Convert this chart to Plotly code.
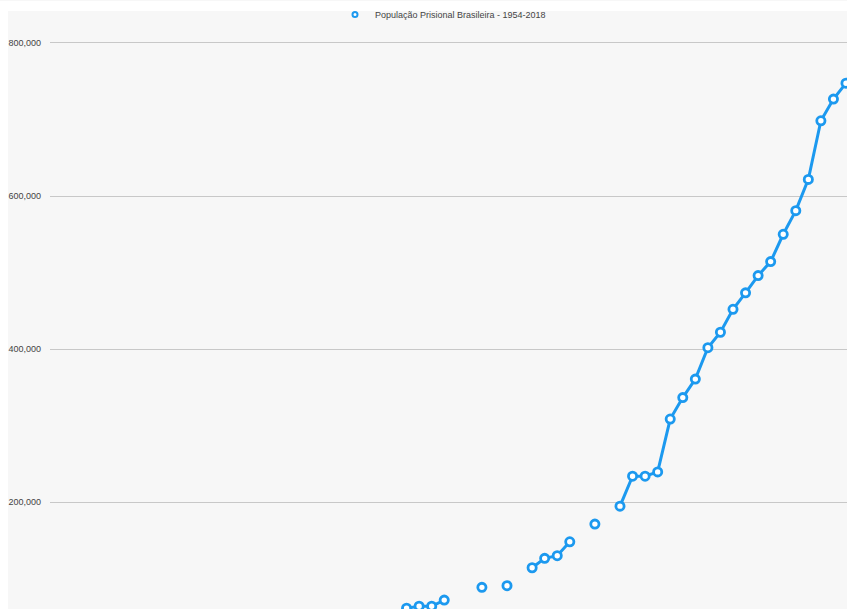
import plotly.graph_objects as go

# Data (years without a value are gaps)
years = [1982, 1983, 1984, 1985, 1986, 1987, 1988, 1989, 1990, 1991,
         1992, 1993, 1994, 1995, 1996, 1997, 1998, 1999, 2000, 2001,
         2002, 2003, 2004, 2005, 2006, 2007, 2008, 2009, 2010, 2011,
         2012, 2013, 2014, 2015, 2016, 2017]
population = [61500, 64000, 64000, 72000, None, None, 88700, None, 90800, None,
              114300, 126600, 130000, 148200, None, 171300, None, 194800, 233900, 233900,
              239500, 308600, 336600, 360800, 401800, 422000, 452000, 473500, 496000, 514300,
              550000, 580900, 621700, 698300, 726600, 747400]
series_name = "População Prisional Brasileira - 1954-2018"
y_ticks = [200000, 400000, 600000, 800000]

BLUE = "#1c99ef"
BG = "#f7f7f7"
FONT = "Liberation Sans, Arial, Helvetica, sans-serif"

W, H = 847, 609
ML, MT = 50, 0
plot_w, plot_h = W - ML, H - MT

fig = go.Figure()
fig.add_trace(go.Scatter(
    x=years, y=population, mode="lines+markers", name=series_name,
    showlegend=False, connectgaps=False,
    line=dict(color=BLUE, width=3),
    marker=dict(symbol="circle", size=8.2, color="white",
                line=dict(color=BLUE, width=2.8)),
))
# legend entry (marker only)
fig.add_trace(go.Scatter(
    x=[None], y=[None], mode="markers", name=series_name,
    marker=dict(symbol="circle", size=5, color="white",
                line=dict(color=BLUE, width=2)),
))

def px_x(p):
    return (p - ML) / plot_w

def px_y(p):
    return (H - p) / plot_h

shapes = [
    # white strip at top
    dict(type="rect", xref="paper", yref="paper", x0=px_x(0), x1=px_x(W),
         y0=px_y(10), y1=px_y(0), fillcolor="white", line=dict(width=0), layer="below"),
    # white strip at left
    dict(type="rect", xref="paper", yref="paper", x0=px_x(0), x1=px_x(8),
         y0=px_y(H), y1=px_y(0), fillcolor="white", line=dict(width=0), layer="below"),
]

fig.update_layout(
    width=W, height=H,
    margin=dict(l=ML, r=0, t=MT, b=0, pad=0),
    paper_bgcolor=BG, plot_bgcolor=BG,
    font=dict(family=FONT, size=9, color="#444"),
    showlegend=True,
    legend=dict(orientation="h", xref="paper", yref="paper",
                x=px_x(335), y=px_y(14), xanchor="left", yanchor="middle",
                bgcolor="rgba(0,0,0,0)", font=dict(size=9, color="#444"),
                itemwidth=30),
    shapes=shapes,
    xaxis=dict(range=[1953.6, 2017.08], showgrid=False, zeroline=False,
               showticklabels=False, showline=False, ticks=""),
    yaxis=dict(range=[60400, 854800], tickvals=y_ticks, tickformat=",",
               showgrid=True, gridcolor="#c8c8c8", gridwidth=1,
               zeroline=False, showline=False, ticks="",
               ticklabelstandoff=8,
               tickfont=dict(size=9, color="#444", family=FONT)),
)

fig.write_html("out.html")
